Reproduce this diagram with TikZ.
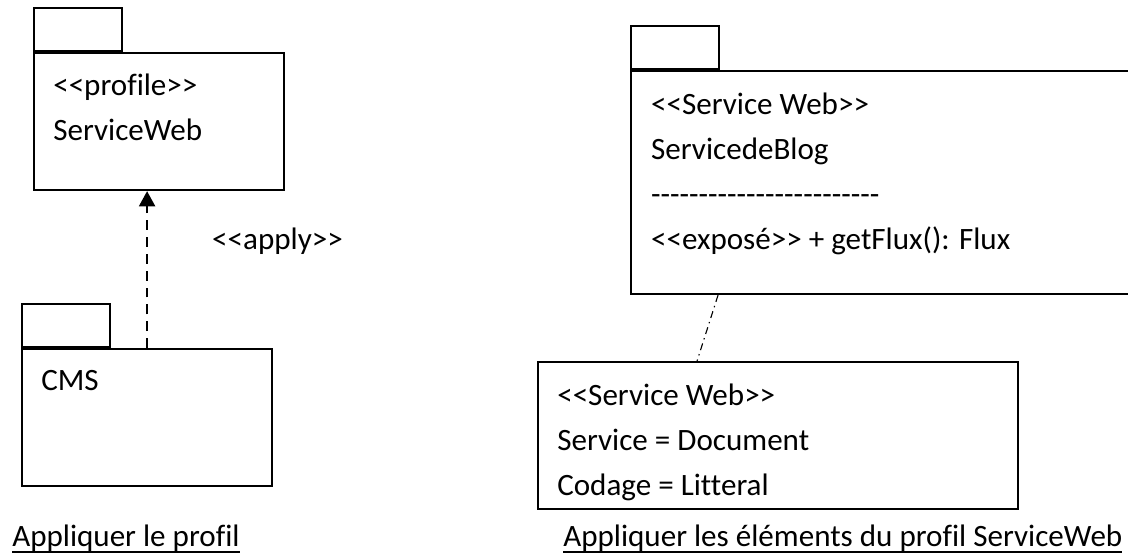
\documentclass[tikz,border=0pt]{standalone}
\usepackage{fontspec}
\newfontfamily\calibri{Carlito}[Ligatures=NoCommon]
\usepackage{tikz}
\usetikzlibrary{positioning, arrows.meta}
\newcommand\souligne[1]{\vtop{\hbox{\raisebox{0pt}[\height][0pt]{#1}}\kern3.6pt\hrule height 1.4pt}}
\tikzstyle{pkg} = [rectangle, draw=black, line width=1.5pt, anchor=north west, minimum width=6.25cm, minimum height=3.425cm, inner sep=0pt]
\tikzstyle{tab} = [rectangle, draw=black, line width=1.5pt, anchor=south west, minimum width=2.2cm, minimum height=1.075cm, inner sep=0pt]
\tikzstyle{note} = [rectangle, draw=black, line width=1.5pt, anchor=north west, minimum width=12cm, minimum height=3.675cm, inner sep=0pt]
\tikzstyle{txt} = [align=left, inner sep=0pt, font=\calibri\fontsize{22.1}{32}\selectfont]
\tikzstyle{arrow} = [line width=1.6pt, dash pattern=on 7pt off 5pt, -{Triangle[length=0.38cm, width=0.4cm]}]
\tikzstyle{ancre} = [line width=0.8pt, dash pattern=on 5pt off 3pt on 1pt off 3pt]

\begin{document}
\begin{tikzpicture}[x=0.025cm, y=-0.025cm]
    \useasboundingbox (0,0) rectangle (1128,555);
    \clip (0,0) rectangle (1128,555);

    % profil applique
    \node (profil) [pkg] at (33,52) {};
    \node (profiltab) [tab] at (profil.north west) {};
    \node (profiltxt) [txt, below right=0.55cm and 0.5cm of profil.north west] {<<profile>>\\ServiceWeb};

    \node (cms) [pkg] at (21,348) {};
    \node (cmstab) [tab] at (cms.north west) {};
    \node (cmstxt) [txt, below right=0.55cm and 0.5cm of cms.north west] {CMS};

    \draw [arrow] (cms.north) -- (cms.north |- profil.south)
        node [txt, pos=0.68, anchor=west, xshift=1.6cm] (apply) {<<apply>>};

    % elements du profil
    \node (blog) [pkg, minimum width=12.75cm, minimum height=5.575cm] at (630,70) {};
    \node (blogtab) [tab] at (blog.north west) {};
    \node (blogtxt) [txt, below right=0.57cm and 0.52cm of blog.north west] {<<Service Web>>\\ServicedeBlog\\------------------------\\<<exposé>> + getFlux(): Flux};

    \node (valeurs) [note] at (537,361) {};
    \node (valeurstxt) [txt, below right=0.57cm and 0.5cm of valeurs.north west] {<<Service Web>>\\Service = Document\\Codage = Litteral};

    \draw [ancre] ([xshift=2.2cm]blog.south west) -- ([xshift=4cm]valeurs.north west);

    % legendes
    \node (legendeg) [txt, anchor=base west] at (12,546) {\souligne{Appliquer le profil}};
    \node (legended) [txt, anchor=base west] at (563,546) {\souligne{Appliquer les éléments du profil ServiceWeb}};
\end{tikzpicture}
\end{document}
